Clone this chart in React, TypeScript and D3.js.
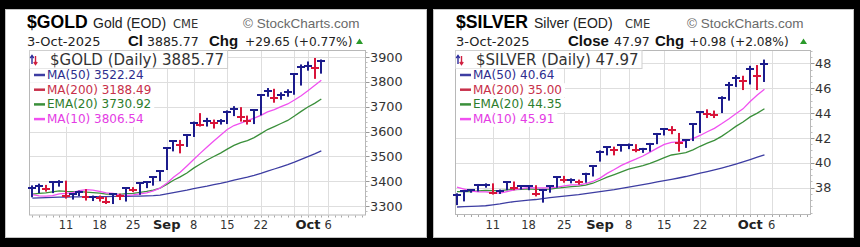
import React from "react";
import * as d3 from "d3";

// ---------- DATA ----------
const tradingDays = [
  "2025-08-04", "2025-08-05", "2025-08-06", "2025-08-07", "2025-08-08",
  "2025-08-11", "2025-08-12", "2025-08-13", "2025-08-14", "2025-08-15",
  "2025-08-18", "2025-08-19", "2025-08-20", "2025-08-21", "2025-08-22",
  "2025-08-25", "2025-08-26", "2025-08-27", "2025-08-28", "2025-08-29",
  "2025-09-02", "2025-09-03", "2025-09-04", "2025-09-05",
  "2025-09-08", "2025-09-09", "2025-09-10", "2025-09-11", "2025-09-12",
  "2025-09-15", "2025-09-16", "2025-09-17", "2025-09-18", "2025-09-19",
  "2025-09-22", "2025-09-23", "2025-09-24", "2025-09-25", "2025-09-26",
  "2025-09-29", "2025-09-30", "2025-10-01", "2025-10-02", "2025-10-03",
];
const futureDays = ["2025-10-06", "2025-10-07", "2025-10-08", "2025-10-09", "2025-10-10", "2025-10-13"];
const axisDays = [...tradingDays, ...futureDays];

const xTickDates = ["2025-08-11", "2025-08-18", "2025-08-25", "2025-09-02", "2025-09-08", "2025-09-15", "2025-09-22", "2025-10-01", "2025-10-06"];
const xTickLabels = ["11", "18", "25", "Sep", "8", "15", "22", "Oct", "6"];
const xTickBold = [false, false, false, true, false, false, false, true, false];
const gridDates = ["2025-08-11", "2025-08-18", "2025-08-25", "2025-09-02", "2025-09-08", "2025-09-15", "2025-09-22", "2025-09-29", "2025-10-01", "2025-10-06"];

// GOLD
const goldPrevClose = 3363;
const goldClose = [3373, 3381, 3369, 3397, 3398, 3342, 3348, 3356, 3335, 3336, 3332, 3316, 3347, 3339, 3372, 3365, 3393, 3397, 3416, 3440,
  3533, 3560, 3545, 3586, 3636, 3626, 3641, 3634, 3643, 3679, 3690, 3660, 3644, 3685, 3746, 3763, 3736, 3749, 3760, 3833, 3859, 3865, 3856, 3885.77];
const goldHigh = [3383, 3390, 3385, 3400, 3404, 3402, 3352, 3362, 3368, 3342, 3342, 3336, 3350, 3350, 3375, 3376, 3394, 3398, 3418, 3443,
  3535, 3562, 3566, 3590, 3640, 3674, 3655, 3648, 3650, 3685, 3702, 3698, 3664, 3688, 3749, 3775, 3772, 3758, 3770, 3835, 3870, 3882, 3896, 3890];
const goldLow = [3335, 3352, 3358, 3352, 3378, 3330, 3326, 3340, 3322, 3320, 3318, 3308, 3308, 3324, 3318, 3356, 3345, 3372, 3382, 3400,
  3445, 3520, 3512, 3538, 3578, 3620, 3620, 3612, 3628, 3630, 3662, 3640, 3628, 3630, 3665, 3740, 3716, 3728, 3740, 3748, 3785, 3845, 3812, 3833];
const goldMA50 = [3332, 3333, 3334, 3335, 3336, 3336, 3337, 3337, 3338, 3338, 3338, 3338, 3339, 3339, 3339, 3340, 3340, 3341, 3342, 3344,
  3349, 3354, 3359, 3364, 3370, 3375, 3380, 3386, 3391, 3397, 3404, 3410, 3416, 3423, 3431, 3440, 3449, 3458, 3467, 3477, 3488, 3499, 3510, 3522.24];
const goldEMA20 = [3347.7, 3350.9, 3352.6, 3356.8, 3360.7, 3358.9, 3357.9, 3357.7, 3355.5, 3353.6, 3351.5, 3348.1, 3348.0, 3347.1, 3349.5, 3351.0, 3355.0, 3359.0, 3364.4, 3371.9,
  3387.2, 3403.6, 3417.1, 3433.1, 3452.4, 3469.0, 3485.3, 3499.4, 3513.1, 3528.9, 3544.2, 3555.2, 3563.6, 3575.2, 3591.5, 3607.8, 3620.0, 3632.3, 3644.5, 3662.3, 3681.0, 3698.5, 3713.5, 3730.92];
const goldMA10 = [3346, 3341, 3340, 3342, 3349, 3351, 3354, 3362, 3366, 3364, 3359, 3353, 3351, 3345, 3342, 3345, 3349, 3353, 3361, 3372,
  3392, 3416, 3436, 3461, 3487, 3513, 3538, 3562, 3585, 3608, 3624, 3634, 3644, 3654, 3665, 3679, 3688, 3700, 3711, 3727, 3744, 3764, 3785, 3806.54];
const goldYTicks = [3300, 3400, 3500, 3600, 3700, 3800, 3900];
const goldHeader = ["$GOLD", "Gold (EOD)", "CME", "3-Oct-2025", "Cl", "3885.77", "Chg", "+29.65 (+0.77%)"];
const goldLegend = ["$GOLD (Daily) 3885.77", "MA(50) 3522.24", "MA(200) 3188.49", "EMA(20) 3730.92", "MA(10) 3806.54"];

// SILVER
const silverPrevClose = 37.0;
const silverClose = [37.45, 37.7, 37.8, 38.2, 38.25, 37.6, 37.75, 38.45, 38.0, 38.1, 38.15, 37.5, 37.85, 38.1, 38.85, 38.6, 38.62, 38.45, 39.1, 39.75,
  40.9, 41.25, 41.0, 41.4, 41.45, 41.0, 41.15, 41.55, 42.35, 42.75, 42.6, 41.6, 41.8, 43.15, 44.05, 43.95, 43.85, 45.25, 46.25, 46.85, 46.6, 47.55, 46.99, 47.97];
const silverHigh = [37.55, 37.75, 37.85, 38.3, 38.35, 38.35, 37.85, 38.5, 38.5, 38.2, 38.2, 38.2, 37.9, 38.15, 38.9, 38.95, 38.75, 38.65, 39.2, 39.8,
  41.0, 41.35, 41.3, 41.5, 41.55, 41.5, 41.2, 41.6, 42.4, 42.8, 42.95, 42.4, 41.9, 43.2, 44.15, 44.3, 44.2, 45.35, 46.5, 47.05, 47.0, 47.8, 47.86, 48.3];
const silverLow = [36.6, 36.9, 37.6, 37.7, 38.0, 37.45, 37.5, 37.8, 37.8, 37.85, 37.8, 37.3, 36.8, 37.6, 38.0, 38.4, 38.35, 38.25, 38.4, 38.9,
  40.1, 40.6, 40.6, 40.9, 41.1, 40.85, 40.8, 40.9, 41.5, 42.2, 42.3, 40.9, 41.2, 41.75, 42.4, 43.6, 43.6, 44.0, 45.0, 46.1, 45.85, 46.3, 45.85, 46.5];
const silverMA50 = [36.45, 36.48, 36.5, 36.52, 36.55, 36.62, 36.7, 36.8, 36.88, 36.94, 37.0, 37.05, 37.12, 37.2, 37.26, 37.32, 37.38, 37.44, 37.52, 37.6,
  37.68, 37.76, 37.84, 37.94, 38.04, 38.14, 38.24, 38.35, 38.46, 38.57, 38.67, 38.78, 38.9, 39.04, 39.17, 39.3, 39.44, 39.58, 39.73, 39.9, 40.08, 40.26, 40.45, 40.64];
const silverEMA20 = [37.68, 37.68, 37.69, 37.74, 37.79, 37.77, 37.77, 37.83, 37.85, 37.87, 37.9, 37.86, 37.86, 37.88, 37.97, 38.03, 38.09, 38.12, 38.21, 38.36,
  38.6, 38.85, 39.06, 39.28, 39.49, 39.63, 39.78, 39.95, 40.18, 40.42, 40.63, 40.72, 40.82, 41.04, 41.33, 41.58, 41.8, 42.13, 42.52, 42.93, 43.28, 43.69, 44.0, 44.35];
const silverMA10 = [38.05, 37.89, 37.73, 37.66, 37.66, 37.6, 37.56, 37.69, 37.82, 37.93, 38.0, 37.98, 37.99, 37.98, 38.04, 38.14, 38.22, 38.22, 38.33, 38.5,
  38.77, 39.15, 39.46, 39.79, 40.05, 40.29, 40.55, 40.86, 41.18, 41.48, 41.65, 41.69, 41.77, 41.94, 42.2, 42.5, 42.77, 43.14, 43.53, 43.94, 44.34, 44.93, 45.45, 45.91];
const silverYTicks = [38, 40, 42, 44, 46, 48];
const silverHeader = ["$SILVER", "Silver (EOD)", "CME", "3-Oct-2025", "Close", "47.97", "Chg", "+0.98 (+2.08%)"];
const silverLegend = ["$SILVER (Daily) 47.97", "MA(50) 40.64", "MA(200) 35.00", "EMA(20) 44.35", "MA(10) 45.91"];

// ---------- STYLE ----------
const SANS = "'Liberation Sans', Arial, sans-serif";
const DJV = "'DejaVu Sans', Verdana, sans-serif";
const UP = "#1c1c8c";
const DOWN = "#d8143a";
const C_MA50 = "#3d3da2";
const C_EMA20 = "#3a8f3a";
const C_MA10 = "#f050f0";
const legendColors = ["#333", "#2e2e8e", "#c8304a", "#2d7d2d", "#e43ce4"];

let measureCtx: CanvasRenderingContext2D | null = null;
function textWidth(t: string, font: string): number {
  if (!measureCtx && typeof document !== "undefined") {
    measureCtx = document.createElement("canvas").getContext("2d");
  }
  if (!measureCtx) return t.length * 7;
  measureCtx.font = font;
  return measureCtx.measureText(t).width;
}

type Spec = {
  px: number; pw: number;
  l: number; r: number; t: number; b: number;
  xDomain: [number, number]; yDomain: [number, number];
  yTicks: number[]; minorCount: number;
  high: number[]; low: number[]; close: number[]; prev: number;
  ma50: number[]; ema20: number[]; ma10: number[];
  header: string[]; hx: number[]; legend: string[];
};

const panels: Spec[] = [
  {
    px: 5.5, pw: 421, l: 29, r: 365, t: 50, b: 214.5,
    xDomain: [-0.5, 49.5], yDomain: [3265.8, 3928.2],
    yTicks: goldYTicks, minorCount: 33,
    high: goldHigh, low: goldLow, close: goldClose, prev: goldPrevClose,
    ma50: goldMA50, ema20: goldEMA20, ma10: goldMA10,
    header: goldHeader, hx: [27, 93, 173, 243, 27, 128, 147, 209, 245, 356],
    legend: goldLegend,
  },
  {
    px: 433.5, pw: 420, l: 455, r: 810, t: 50, b: 214,
    xDomain: [-0.28, 49.37], yDomain: [35.886, 49.07],
    yTicks: silverYTicks, minorCount: 30,
    high: silverHigh, low: silverLow, close: silverClose, prev: silverPrevClose,
    ma50: silverMA50, ema20: silverEMA20, ma10: silverMA10,
    header: silverHeader, hx: [456, 534, 625, 687, 456, 568, 614, 655, 689, 800],
    legend: silverLegend,
  },
];

function Panel({ p, id }: { p: Spec; id: string }) {
  const x = d3.scaleLinear().domain(p.xDomain).range([p.l, p.r]);
  const y = d3.scaleLinear().domain(p.yDomain).range([p.b, p.t]);
  const pos = (d: string) => x(axisDays.indexOf(d));
  const line = d3.line<number>().x((_, i) => x(i)).y((v) => y(v));
  const minor = d3.ticks(p.yDomain[0], p.yDomain[1], p.minorCount);
  const h = p.header;
  const hx = p.hx;

  const row0Font = `15px ${DJV}`;
  const rowFont = `12px ${DJV}`;
  const row0W = textWidth(p.legend[0], row0Font);

  const rowBase = [p.t + 29, p.t + 43.7, p.t + 58.4, p.t + 73.1];
  const rowColors = [C_MA50, "#c8304a", C_EMA20, C_MA10];

  return (
    <g>
      <rect x={p.px} y={9.5} width={p.pw} height={228} fill="#fff" stroke="#c4c4c4" />
      {/* header */}
      <text x={hx[0]} y={28} fontFamily={SANS} fontWeight="bold" fontSize={17.6} fill="#000">{h[0]}</text>
      <text x={hx[1]} y={28} fontFamily={SANS} fontSize={14} fill="#222">{h[1]}</text>
      <text x={hx[2]} y={28} fontFamily={DJV} fontSize={11.5} fill="#333">{h[2]}</text>
      <text x={hx[3]} y={28} fontFamily={SANS} fontSize={13.5} fill="#6a6a6a">© StockCharts.com</text>
      <text x={hx[4]} y={46} fontFamily={DJV} fontSize={13} fill="#222">{h[3]}</text>
      <text x={hx[5]} y={46} fontFamily={SANS} fontWeight="bold" fontSize={15} fill="#111">{h[4]}</text>
      <text x={hx[6]} y={46} fontFamily={DJV} fontSize={12.5} fill="#222">{h[5]}</text>
      <text x={hx[7]} y={46} fontFamily={SANS} fontWeight="bold" fontSize={15} fill="#111">{h[6]}</text>
      <text x={hx[8]} y={46} fontFamily={DJV} fontSize={12.2} fill="#222">{h[7]}</text>
      <path d={`M${hx[9]},44 L${hx[9] + 7},44 L${hx[9] + 3.5},38.5 Z`} fill="#2a9a2a" />

      {/* plot */}
      <rect x={p.l} y={p.t} width={p.r - p.l} height={p.b - p.t} fill="#fff" />
      <g stroke="#dedede" strokeWidth={1}>
        {p.yTicks.map((v) => (
          <line key={"h" + v} x1={p.l} x2={p.r} y1={Math.round(y(v)) + 0.5} y2={Math.round(y(v)) + 0.5} />
        ))}
        {gridDates.map((d) => (
          <line key={"v" + d} x1={Math.round(pos(d)) + 0.5} x2={Math.round(pos(d)) + 0.5} y1={p.t} y2={p.b} />
        ))}
      </g>
      <rect x={p.l + 0.5} y={p.t + 0.5} width={p.r - p.l} height={p.b - p.t} fill="none" stroke="#b8b8b8" />
      {/* day ticks */}
      <g stroke="#a8a8a8">
        {axisDays.map((d, i) => (
          <line key={"d" + d} x1={Math.round(x(i)) + 0.5} x2={Math.round(x(i)) + 0.5} y1={p.b + 1} y2={p.b + 3} />
        ))}
      </g>
      {/* minor right ticks */}
      <g stroke="#bdbdbd">
        {minor.map((v) => (
          <line key={"m" + v} x1={p.r + 0.5} x2={p.r + 2.5} y1={Math.round(y(v)) + 0.5} y2={Math.round(y(v)) + 0.5} />
        ))}
      </g>
      {/* y axis */}
      {p.yTicks.map((v) => (
        <g key={"yl" + v}>
          <line x1={p.r + 1} x2={p.r + 4.5} y1={Math.round(y(v)) + 0.5} y2={Math.round(y(v)) + 0.5} stroke="#999" />
          <text x={p.r + 5} y={y(v) + 4.6} fontFamily={DJV} fontSize={12.8} fill="#333">{String(v)}</text>
        </g>
      ))}
      {/* x axis labels */}
      {xTickDates.map((d, k) => (
        <text key={"xl" + d} x={pos(d)} y={229} textAnchor="middle" fontFamily={DJV}
          fontWeight={xTickBold[k] ? "bold" : "normal"} fontSize={xTickBold[k] ? 13 : 11.5} fill={xTickBold[k] ? "#222" : "#333"}>
          {xTickLabels[k]}
        </text>
      ))}

      {/* legend */}
      <rect x={p.l + 0.5} y={p.t + 0.5} width={21 + row0W + 3} height={18} fill="#fff" stroke="#cfcfcf" />
      <g strokeWidth={1.4} fill="none">
        <path d={`M${p.l + 3},${p.t + 14} L${p.l + 3},${p.t + 6}`} stroke="#2a2a9a" />
        <path d={`M${p.l + 1.3},${p.t + 8} L${p.l + 3},${p.t + 5.5} L${p.l + 4.7},${p.t + 8}`} stroke="#2a2a9a" />
        <path d={`M${p.l + 6.5},${p.t + 6} L${p.l + 6.5},${p.t + 14}`} stroke="#d02040" />
        <path d={`M${p.l + 4.8},${p.t + 12} L${p.l + 6.5},${p.t + 14.5} L${p.l + 8.2},${p.t + 12}`} stroke="#d02040" />
      </g>
      <text x={p.l + 21} y={p.t + 15} fontFamily={DJV} fontSize={15} fill="#333">{p.legend[0]}</text>
      {rowBase.map((yb, k) => {
        const w = textWidth(p.legend[k + 1], rowFont);
        return (
          <g key={"lg" + k}>
            <rect x={p.l + 1} y={yb - 10.5} width={18 + w + 2} height={14.2} fill="#fff" />
            <line x1={p.l + 5} x2={p.l + 16} y1={yb - 4} y2={yb - 4} stroke={rowColors[k]} strokeWidth={2.5} />
            <text x={p.l + 18} y={yb} fontFamily={DJV} fontSize={12} fill={legendColors[k + 1]}>{p.legend[k + 1]}</text>
          </g>
        );
      })}

      {/* moving averages */}
      <clipPath id={id}>
        <rect x={p.l} y={p.t} width={p.r - p.l} height={p.b - p.t} />
      </clipPath>
      <g clipPath={`url(#${id})`} fill="none" strokeWidth={1.3}>
        <path d={line(p.ma50) || ""} stroke={C_MA50} />
        <path d={line(p.ema20) || ""} stroke={C_EMA20} />
        <path d={line(p.ma10) || ""} stroke={C_MA10} />
      </g>

      {/* HLC bars */}
      {p.close.map((c, i) => {
        const prev = i === 0 ? p.prev : p.close[i - 1];
        const col = c >= prev ? UP : DOWN;
        const cx = Math.round(x(i));
        const yc = Math.round(y(c));
        return (
          <g key={"b" + i} fill={col}>
            <rect x={cx - 1} y={y(p.high[i])} width={2} height={Math.max(2, y(p.low[i]) - y(p.high[i]))} />
            <rect x={cx - 4} y={yc - 1} width={8} height={2} />
          </g>
        );
      })}
    </g>
  );
}

export default function App() {
  return (
    <svg width={860} height={247} viewBox="0 0 860 247"
      style={{ position: "absolute", left: 0, top: 0, display: "block" }}>
      <rect x={0} y={0} width={860} height={247} fill="#000" />
      {panels.map((p, k) => (
        <Panel key={k} p={p} id={"clip" + k} />
      ))}
    </svg>
  );
}
